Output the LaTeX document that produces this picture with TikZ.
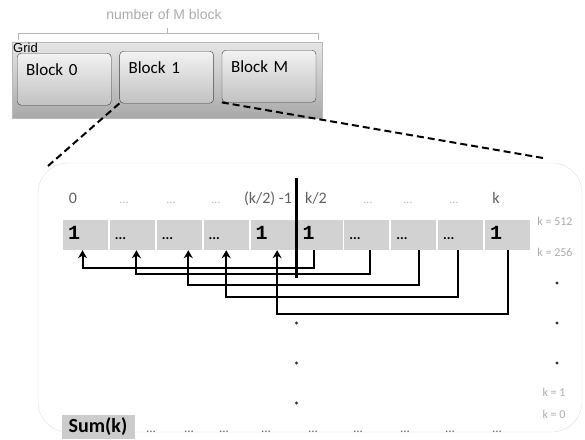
\documentclass[tikz,border=0pt]{standalone}
\usepackage{fontspec}
\setmainfont{Carlito}
\newfontfamily\blockfont{Liberation Sans}
\newfontfamily\cellfont{Liberation Mono}
\usetikzlibrary{arrows.meta, positioning, calc}

\newcommand\cellone{{\cellfont\bfseries\fontsize{20}{20}\selectfont 1}}
\newcommand\celldots{{\bfseries\fontsize{14}{14}\selectfont ...}}
\newcommand\lightdots{{\color{gray!55}\fontsize{12}{12}\selectfont ...}}

\begin{document}
\begin{tikzpicture}[
    x=1pt, y=-1pt,
    gridbox/.style={draw=gray!55, top color=gray!20, bottom color=gray!68,
        minimum width=310pt, minimum height=76pt, anchor=north west},
    blockbox/.style={draw=gray!50!black, rounded corners=4pt, top color=gray!10,
        bottom color=gray!48, minimum width=94pt, minimum height=52pt,
        text width=76pt, align=left, inner xsep=9pt, inner ysep=5pt,
        text height=17pt, text depth=25pt, font=\fontsize{17}{17}\selectfont},
    panel/.style={draw=gray!25, rounded corners=30pt, minimum width=544pt,
        minimum height=269pt},
    cell/.style={fill=gray!35, minimum width=45pt, minimum height=30pt,
        text width=35pt, align=left, inner xsep=5pt, text height=12pt,
        text depth=3pt},
    idx/.style={anchor=base, text=gray!75!black, font=\fontsize{16}{16}\selectfont},
    klbl/.style={text=gray!65, font=\fontsize{12}{12}\selectfont},
    zoomline/.style={dashed, dash pattern=on 7pt off 4pt, line width=2pt},
    bracket/.style={draw=gray!55, line width=0.7pt},
    link/.style={-{Stealth[length=8pt, width=9pt]}, line width=2pt},
    dotmark/.style={fill=black!80},
]
    % grid of blocks
    \node[gridbox] (grid) at (12,42) {};
    \node[anchor=north west, inner sep=1pt, font=\blockfont\fontsize{13}{13}\selectfont]
        (gridlbl) at (grid.north west) {Grid};
    \node[blockbox, anchor=north west] (b0) at (17,53) {Block 0};
    \node[blockbox, right=8pt of b0, yshift=2pt] (b1) {Block 1};
    \node[blockbox, right=8pt of b1, yshift=1pt] (bM) {Block M};

    \draw[bracket] (18,40) -- (18,33) -- (318,33) -- (318,40);
    \draw[bracket] (167,33) -- (167,28);
    \node[text=gray!65, font=\blockfont\fontsize{14}{14}\selectfont] (nblk)
        at (164,14) {number of M block};

    % zoomed panel
    \node[panel] (panel) at (310,297.5) {};
    \coordinate (zl) at (48,166);
    \coordinate (zr) at (543,158);
    \draw[zoomline] (b1.south west) -- (zl);
    \draw[zoomline] (bM.south west) -- (zr);

    % cells
    \node[cell] (c0) at (85.5,235) {\cellone};
    \foreach \v [count=\n from 1] in {\celldots,\celldots,\celldots,\cellone,
            \cellone,\celldots,\celldots,\celldots,\cellone} {
        \pgfmathtruncatemacro\p{\n-1}
        \node[cell, right=1.5pt of c\p] (c\n) {\v};
    }

    % index labels
    \foreach \x/\t [count=\n from 0] in {73/0, 124/\lightdots, 171/\lightdots,
            216/\lightdots, 268/{(k/2) -1}, 316/{k/2}, 368/\lightdots,
            408/\lightdots, 454/\lightdots, 496/k}
        \node[idx] (i\n) at (\x,203) {\t};

    % split line
    \coordinate (sep) at ($(c4.east)!0.5!(c5.west)$);
    \draw[line width=2.2pt] ($(sep)+(0,-57)$) -- ($(sep)+(0,43)$);
    \foreach \y in {88,128,168}
        \fill[dotmark] ($(sep)+(0,\y)$) circle (1.6);

    % pairwise additions
    \foreach \s/\t/\sx/\tx/\d in {5/0/-6/-3/18, 6/1/3/4/24, 7/2/5/9/35,
            8/3/-3/0/47, 9/4/0/4/64}
        \draw[link] ([xshift=\sx]c\s.south) -- ++(0,\d) -| ([xshift=\tx]c\t.south);

    % levels
    \node[klbl] (k512) at (555,221) {k = 512};
    \node[klbl] (k256) at (555,252) {k = 256};
    \foreach \y in {283,323,363}
        \fill[dotmark] (557,\y) circle (1.6);
    \node[klbl] (k1) at (554,392) {k = 1};
    \node[klbl] (k0) at (554,414) {k = 0};

    % sum row
    \node[fill=gray!40, minimum width=73pt, minimum height=24pt,
        font=\bfseries\fontsize{20}{20}\selectfont] (sum) at (98,427) {Sum(k)};
    \foreach \x [count=\n] in {151,189,224,266,313,358,405,450,497}
        \node[anchor=base] (s\n) at (\x,432)
            {{\color{gray!80!black}\fontsize{13}{13}\selectfont ...}};

    \useasboundingbox (0,0) rectangle (585,437);
\end{tikzpicture}
\end{document}
